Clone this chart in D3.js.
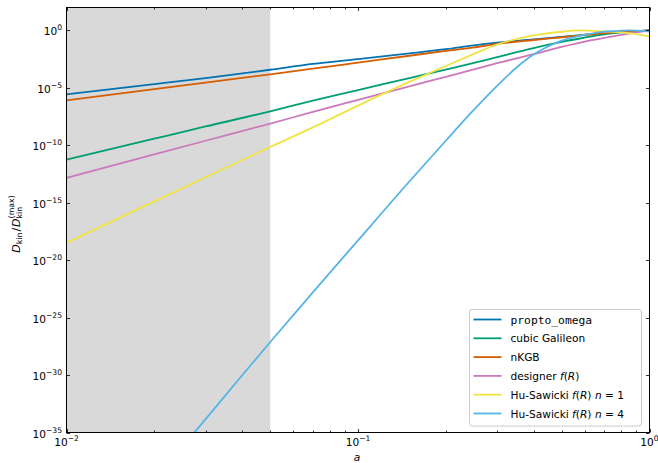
<!DOCTYPE html>
<html><head><meta charset="utf-8">
<script src="https://cdn.jsdelivr.net/npm/d3@7"></script>
<style>body{margin:0;background:#fff}svg{display:block}text{font-family:"DejaVu Sans",sans-serif;fill:#000}</style>
</head><body><svg id="c" width="658" height="463"></svg>
<script>
// ---- data ----
const aGrid = [0.01,0.02,0.03,0.05,0.07,0.1,0.15,0.2,0.25,0.3,0.4,0.5,0.6,0.7,0.8,0.9,1.0];
const proptoOmega = [2.75e-6,2.14e-5,7.24e-5,3.80e-4,1.23e-3,3.24e-3,1.02e-2,2.34e-2,5.13e-2,8.71e-2,0.166,0.282,0.427,0.603,0.776,0.891,1];
const cubicGalileon = [5.75e-12,3.80e-10,4.37e-9,9.12e-8,7.76e-7,6.46e-6,7.24e-5,3.98e-4,1.51e-3,4.79e-3,2.95e-2,0.1,0.245,0.468,0.676,0.851,1];
const nKGB = [8.32e-7,7.76e-6,2.88e-5,1.51e-4,4.68e-4,1.58e-3,6.31e-3,1.66e-2,3.31e-2,6.76e-2,0.148,0.257,0.407,0.589,0.759,0.891,1];
const designerFR = [1.45e-13,1.62e-11,2.51e-10,7.76e-9,8.13e-8,8.91e-7,1.35e-5,9.33e-5,4.17e-4,1.41e-3,8.71e-3,3.72e-2,0.107,0.224,0.407,0.676,1];
const aHS1 = [0.01,0.02,0.03,0.05,0.07,0.1,0.15,0.2,0.25,0.3,0.4,0.5,0.58,0.7,0.8,0.9,1.0];
const huSawicki1 = [3.24e-19,1.32e-15,1.66e-13,7.24e-11,3.63e-9,2.88e-7,3.31e-5,8.13e-4,9.12e-3,6.03e-2,0.372,0.776,1,0.813,0.676,0.479,0.302];
const aHS4 = [0.025,0.03,0.04,0.05,0.07,0.1,0.15,0.2,0.25,0.3,0.35,0.4,0.45,0.5,0.6,0.7,0.8,0.85,0.9,1.0];
const huSawicki4 = [5.75e-37,1.45e-34,9.12e-31,7.59e-28,1.58e-23,5.25e-19,7.08e-14,2.51e-10,1.26e-7,1.51e-5,6.03e-4,7.94e-3,4.27e-2,0.129,0.417,0.794,0.955,1,0.977,0.813];
const seriesNames = ["propto_omega","cubic Galileon","nKGB","designer f(R)","Hu-Sawicki f(R) n=1","Hu-Sawicki f(R) n=4"];
const colors = ["#0173b2","#029e73","#d55e00","#cc78bc","#f0e442","#56b4e9"];
const shadedRange = [0.01, 0.05];
const yTickExps = [0,-5,-10,-15,-20,-25,-30,-35];
const xTickExps = [-2,-1,0];

const series = [
  {x:aGrid, y:proptoOmega},
  {x:aGrid, y:cubicGalileon},
  {x:aGrid, y:nKGB},
  {x:aGrid, y:designerFR},
  {x:aHS1, y:huSawicki1},
  {x:aHS4, y:huSawicki4}
];

const svg = d3.select("#c");
const L=66.5, R=649.5, T=7.5, B=432.5;
const x = d3.scaleLog().domain([0.01,1]).range([L,R]);
const y = d3.scaleLog().domain([1e-35,1e2]).range([B,T]);

svg.append("defs").append("clipPath").attr("id","clip")
  .append("rect").attr("x",L).attr("y",T).attr("width",R-L).attr("height",B-T);

svg.append("rect").attr("x",x(shadedRange[0])).attr("y",T)
  .attr("width",x(shadedRange[1])-x(shadedRange[0])).attr("height",B-T).attr("fill","#d9d9d9");

const line = d3.line().x(d=>x(d[0])).y(d=>y(d[1])).curve(d3.curveMonotoneX);
const g = svg.append("g").attr("clip-path","url(#clip)");
series.forEach((s,i)=>{
  g.append("path").datum(s.x.map((v,j)=>[v,s.y[j]]))
   .attr("d",line).attr("fill","none").attr("stroke",colors[i]).attr("stroke-width",1.8);
});

// ticks (inward, all sides)
const tk = svg.append("g").attr("stroke","#000").attr("stroke-width",0.8);
const xMinor=[];
[0.01,0.1].forEach(b=>{for(let k=2;k<=9;k++) xMinor.push(b*k);});
xMinor.forEach(v=>{
  const px=Math.round(x(v))+0.5;
  tk.append("line").attr("x1",px).attr("x2",px).attr("y1",B).attr("y2",B-2);
  tk.append("line").attr("x1",px).attr("x2",px).attr("y1",T).attr("y2",T+2);
});
xTickExps.forEach(e=>{
  const px=Math.round(x(Math.pow(10,e)))+0.5;
  tk.append("line").attr("x1",px).attr("x2",px).attr("y1",B).attr("y2",B-3.5);
  tk.append("line").attr("x1",px).attr("x2",px).attr("y1",T).attr("y2",T+3.5);
});
yTickExps.forEach(e=>{
  const py=Math.round(y(Math.pow(10,e)))+0.5;
  tk.append("line").attr("x1",L).attr("x2",L+3.5).attr("y1",py).attr("y2",py);
  tk.append("line").attr("x1",R).attr("x2",R-3.5).attr("y1",py).attr("y2",py);
});

// frame
svg.append("rect").attr("x",L).attr("y",T).attr("width",R-L).attr("height",B-T)
  .attr("fill","none").attr("stroke","#000").attr("stroke-width",1);

function powLabel(sel, e){
  sel.append("tspan").text("10");
  sel.append("tspan").attr("dy",-5).attr("font-size",7.6).text(e<0?"\u2212"+(-e):String(e));
}
yTickExps.forEach(e=>{
  const t=svg.append("text").attr("x",62).attr("y",y(Math.pow(10,e))+5)
    .attr("text-anchor","end").attr("font-size",10.6);
  powLabel(t,e);
});
xTickExps.forEach(e=>{
  const t=svg.append("text").attr("x",x(Math.pow(10,e))).attr("y",446)
    .attr("text-anchor","middle").attr("font-size",10.6);
  powLabel(t,e);
});

svg.append("text").attr("x",357).attr("y",461).attr("text-anchor","middle")
  .attr("font-size",10.6).attr("font-style","italic").text("a");

// y label
const yl = svg.append("text").attr("transform","translate(19.5,224) rotate(-90)")
  .attr("text-anchor","middle").attr("font-size",11);
yl.append("tspan").attr("font-style","italic").text("D");
yl.append("tspan").attr("font-size",7.8).attr("dy",2.6).text("kin");
yl.append("tspan").attr("dy",-2.6).attr("dx",1).text("/");
yl.append("tspan").attr("font-style","italic").attr("dx",1).text("D");
yl.append("tspan").attr("font-size",7.8).attr("dy",2.6).text("kin");
yl.append("tspan").attr("font-size",7.8).attr("dx",-11.6).attr("dy",-8.4).text("(max)");

// legend
const lg = svg.append("g");
lg.append("rect").attr("x",469.5).attr("y",309.5).attr("width",172).attr("height",116.5)
  .attr("rx",2.5).attr("fill","#fff").attr("fill-opacity",0.8).attr("stroke","#ccc").attr("stroke-width",1);
seriesNames.forEach((n,i)=>{
  const yy = 319.5 + i*18.8;
  lg.append("line").attr("x1",473.5).attr("x2",501.5).attr("y1",yy).attr("y2",yy)
    .attr("stroke",colors[i]).attr("stroke-width",1.8);
  const t = lg.append("text").attr("x",510.5).attr("y",yy+4).attr("font-size",10.6);
  if(i===0){ t.style("font-family","'DejaVu Sans Mono', monospace").attr("font-size",11.3).text(n); return; }
  const m = n.match(/^(.*?)f\(R\)(?: n=(\d))?$/);
  if(!m){ t.text(n); return; }
  t.append("tspan").text(m[1].replace(/ $/,"\u00a0"));
  t.append("tspan").attr("font-style","italic").text("f");
  t.append("tspan").text("(");
  t.append("tspan").attr("font-style","italic").text("R");
  t.append("tspan").text(")");
  if(m[2]){
    t.append("tspan").text("\u00a0");
    t.append("tspan").attr("font-style","italic").text("n");
    t.append("tspan").text("\u00a0=\u00a0"+m[2]);
  }
});
</script></body></html>
